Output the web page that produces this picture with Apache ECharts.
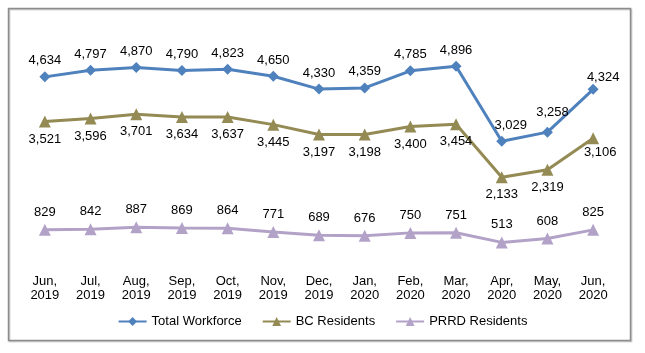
<!DOCTYPE html>
<html>
<head>
<meta charset="utf-8">
<script src="https://cdn.jsdelivr.net/npm/echarts@6/dist/echarts.min.js"></script>
<style>
  html, body { margin: 0; padding: 0; background: #fff; }
  #chart { width: 645px; height: 353px; }
</style>
</head>
<body>
<div id="chart"></div>
<script>
const months = [
  "Jun,\n2019", "Jul,\n2019", "Aug,\n2019", "Sep,\n2019", "Oct,\n2019", "Nov,\n2019",
  "Dec,\n2019", "Jan,\n2020", "Feb,\n2020", "Mar,\n2020", "Apr,\n2020", "May,\n2020", "Jun,\n2020"
];
const totalWorkforce = [4634, 4797, 4870, 4790, 4823, 4650, 4330, 4359, 4785, 4896, 3029, 3258, 4324];
const bcResidents = [3521, 3596, 3701, 3634, 3637, 3445, 3197, 3198, 3400, 3454, 2133, 2319, 3106];
const prrdResidents = [829, 842, 887, 869, 864, 771, 689, 676, 750, 751, 513, 608, 825];

const FONT = "'Liberation Sans', Arial, sans-serif";
const fmt = (v) => v.toLocaleString("en-US");

// a few labels sit nudged right in the original
const nudges = {
  total: { 10: [9, 0], 11: [5, -4], 12: [10, 4] },
  bc: { 12: [7, -3] },
};

function withNudges(values, map) {
  return values.map((v, i) =>
    map && map[i] ? { value: v, label: { offset: map[i] } } : v
  );
}

function makeSeries(name, values, color, symbol, pos, dist, map) {
  return {
    name,
    type: "line",
    data: withNudges(values, map),
    symbol,
    symbolSize: symbol === "diamond" ? 11 : 12,
    lineStyle: { color, width: 3 },
    itemStyle: { color },
    label: {
      show: true,
      position: pos,
      distance: dist,
      color: "#000",
      fontFamily: FONT,
      fontSize: 13,
      formatter: (p) => fmt(p.value),
    },
    animation: false,
  };
}

const chart = echarts.init(document.getElementById("chart"), null, { renderer: "canvas" });
chart.setOption({
  animation: false,
  grid: { left: 22, right: 29, top: 22, bottom: 90 },
  graphic: [
    {
      type: "rect",
      shape: { x: 8.5, y: 8.5, width: 622, height: 332 },
      style: { fill: "none", stroke: "#8c8c8c", lineWidth: 1.5, shadowColor: "rgba(0,0,0,0.25)", shadowOffsetX: 1, shadowOffsetY: 1, shadowBlur: 1 },
      silent: true,
      z: -1,
    },
  ],
  xAxis: {
    type: "category",
    data: months,
    boundaryGap: true,
    axisLine: { show: false },
    axisTick: { show: false },
    splitLine: { show: false },
    axisLabel: {
      color: "#000",
      fontFamily: FONT,
      fontSize: 13,
      lineHeight: 14,
      margin: 11,
      interval: 0,
    },
  },
  yAxis: {
    type: "value",
    min: 0,
    max: 6000,
    show: false,
    splitLine: { show: false },
  },
  legend: {
    bottom: 20,
    left: "center",
    itemWidth: 28,
    itemHeight: 11,
    itemGap: 20,
    textStyle: { color: "#000", fontFamily: FONT, fontSize: 13 },
    data: ["Total Workforce", "BC Residents", "PRRD Residents"],
  },
  series: [
    makeSeries("Total Workforce", totalWorkforce, "#4f81bd", "diamond", "top", 4, nudges.total),
    makeSeries("BC Residents", bcResidents, "#948a54", "triangle", "bottom", 5, nudges.bc),
    makeSeries("PRRD Residents", prrdResidents, "#b3a2c7", "triangle", "top", 5),
  ],
});
</script>
</body>
</html>
